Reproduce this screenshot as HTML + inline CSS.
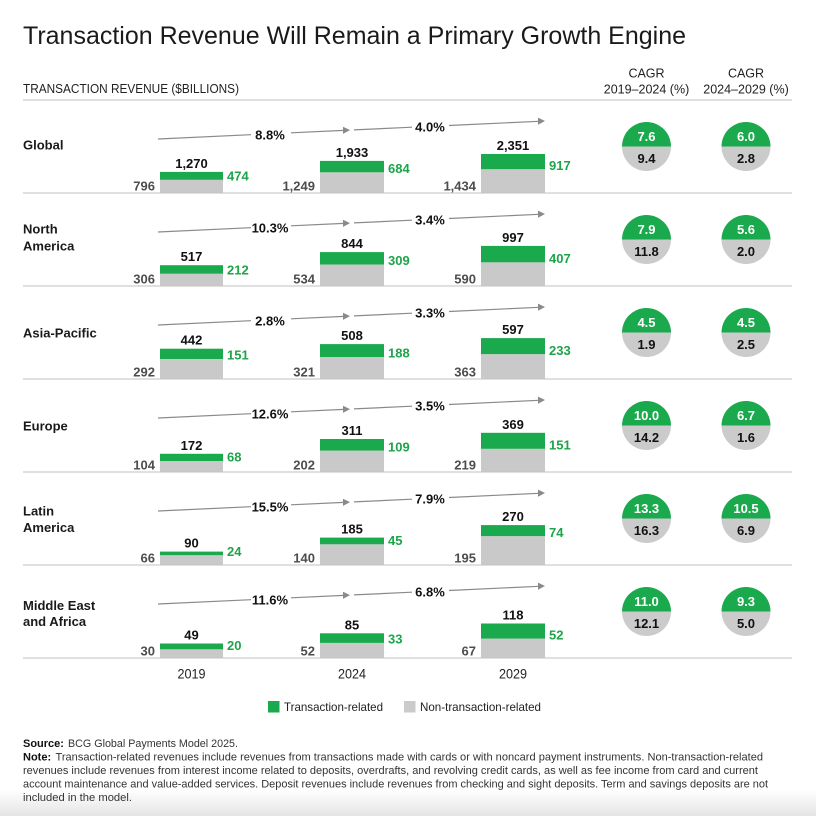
<!DOCTYPE html>
<html><head><meta charset="utf-8"><style>
html,body{margin:0;padding:0;background:#fff;}
svg{display:block;}
.t{font-family:"Liberation Sans",Arial,sans-serif;}
.b{font-weight:bold;font-size:13px;}
.tot{fill:#111;text-anchor:middle;}
.gv{fill:#4d4d4d;text-anchor:end;}
.gr{fill:#1ea44a;}
.lbl{fill:#111;text-anchor:middle;}
.rl{fill:#1a1a1a;font-weight:bold;font-size:13px;}
.cw{fill:#fff;text-anchor:middle;}
.ck{fill:#111;text-anchor:middle;}
</style></head><body>
<svg width="816" height="816" viewBox="0 0 816 816" class="t" font-family="Liberation Sans, Arial, sans-serif">
<defs>
<linearGradient id="bg" x1="0" y1="0" x2="0" y2="1">
<stop offset="0" stop-color="#ffffff"/>
<stop offset="1" stop-color="#e4e4e4"/>
</linearGradient>
<g id="arr">
<g stroke="#8a8a8a" stroke-width="1.2" fill="none">
<line x1="158" y1="39" x2="251" y2="34.7"/>
<line x1="291" y1="32.8" x2="344" y2="30.4"/>
<line x1="354" y1="29.9" x2="412" y2="27.2"/>
<line x1="449" y1="25.5" x2="539" y2="21.3"/>
</g>
<polygon points="350,30.1 343,26.7 343,33.9" fill="#8a8a8a"/>
<polygon points="545,21 538,17.6 538,24.8" fill="#8a8a8a"/>
</g>
<g id="c1"><path d="M622,46.5 A24.5,24.5 0 0 1 671,46.5 Z" fill="#1aa94c"/><path d="M622,46.5 A24.5,24.5 0 0 0 671,46.5 Z" fill="#cbcbcb"/></g>
<g id="c2"><path d="M721.5,46.5 A24.5,24.5 0 0 1 770.5,46.5 Z" fill="#1aa94c"/><path d="M721.5,46.5 A24.5,24.5 0 0 0 770.5,46.5 Z" fill="#cbcbcb"/></g>
</defs>

<rect x="0" y="790" width="816" height="26" fill="url(#bg)"/>

<text x="23" y="44" font-size="25" fill="#1a1a1a" textLength="663" lengthAdjust="spacingAndGlyphs">Transaction Revenue Will Remain a Primary Growth Engine</text>
<text x="23" y="93" font-size="13" fill="#222" textLength="216" lengthAdjust="spacingAndGlyphs">TRANSACTION REVENUE ($BILLIONS)</text>
<text x="646.5" y="77.3" font-size="12.5" fill="#222" text-anchor="middle">CAGR</text>
<text x="646.5" y="93.5" font-size="12.5" fill="#222" text-anchor="middle">2019–2024 (%)</text>
<text x="746" y="77.3" font-size="12.5" fill="#222" text-anchor="middle">CAGR</text>
<text x="746" y="93.5" font-size="12.5" fill="#222" text-anchor="middle">2024–2029 (%)</text>
<line x1="23" y1="100" x2="792" y2="100" stroke="#c2c2c2" stroke-width="1"/>

<!-- Global -->
<g transform="translate(0,100)">
<text x="23" y="49.5" class="rl">Global</text>
<use href="#arr"/>
<text x="270" y="39.6" class="b lbl">8.8%</text>
<text x="430" y="31.3" class="b lbl">4.0%</text>
<rect x="160" y="79.8" width="63" height="13.2" fill="#c9c9c9"/><rect x="160" y="71.9" width="63" height="7.9" fill="#1aa94c"/>
<rect x="320" y="72.3" width="64" height="20.7" fill="#c9c9c9"/><rect x="320" y="60.9" width="64" height="11.4" fill="#1aa94c"/>
<rect x="481" y="69.2" width="64" height="23.8" fill="#c9c9c9"/><rect x="481" y="54" width="64" height="15.2" fill="#1aa94c"/>
<text x="191.5" y="67.9" class="b tot">1,270</text><text x="155" y="90.5" class="b gv">796</text><text x="227" y="80.5" class="b gr">474</text>
<text x="352" y="56.9" class="b tot">1,933</text><text x="315" y="90.5" class="b gv">1,249</text><text x="388" y="73" class="b gr">684</text>
<text x="513" y="50" class="b tot">2,351</text><text x="476" y="90.5" class="b gv">1,434</text><text x="549" y="69.9" class="b gr">917</text>
<use href="#c1"/><use href="#c2"/>
<text x="646.5" y="41.1" class="b cw">7.6</text><text x="646.5" y="63.1" class="b ck">9.4</text>
<text x="746" y="41.1" class="b cw">6.0</text><text x="746" y="63.1" class="b ck">2.8</text>
<line x1="23" y1="93" x2="792" y2="93" stroke="#c2c2c2" stroke-width="1"/>
</g>

<!-- North America -->
<g transform="translate(0,193)">
<text x="23" y="40.5" class="rl">North</text><text x="23" y="57.5" class="rl">America</text>
<use href="#arr"/>
<text x="270" y="39.6" class="b lbl">10.3%</text>
<text x="430" y="31.3" class="b lbl">3.4%</text>
<rect x="160" y="80.7" width="63" height="12.3" fill="#c9c9c9"/><rect x="160" y="72.2" width="63" height="8.5" fill="#1aa94c"/>
<rect x="320" y="71.5" width="64" height="21.5" fill="#c9c9c9"/><rect x="320" y="59.1" width="64" height="12.4" fill="#1aa94c"/>
<rect x="481" y="69.3" width="64" height="23.7" fill="#c9c9c9"/><rect x="481" y="52.9" width="64" height="16.4" fill="#1aa94c"/>
<text x="191.5" y="68.2" class="b tot">517</text><text x="155" y="90.5" class="b gv">306</text><text x="227" y="81.4" class="b gr">212</text>
<text x="352" y="55.1" class="b tot">844</text><text x="315" y="90.5" class="b gv">534</text><text x="388" y="72.2" class="b gr">309</text>
<text x="513" y="48.9" class="b tot">997</text><text x="476" y="90.5" class="b gv">590</text><text x="549" y="70" class="b gr">407</text>
<use href="#c1"/><use href="#c2"/>
<text x="646.5" y="41.1" class="b cw">7.9</text><text x="646.5" y="63.1" class="b ck">11.8</text>
<text x="746" y="41.1" class="b cw">5.6</text><text x="746" y="63.1" class="b ck">2.0</text>
<line x1="23" y1="93" x2="792" y2="93" stroke="#c2c2c2" stroke-width="1"/>
</g>

<!-- Asia-Pacific -->
<g transform="translate(0,286)">
<text x="23" y="51.5" class="rl">Asia-Pacific</text>
<use href="#arr"/>
<text x="270" y="39.6" class="b lbl">2.8%</text>
<text x="430" y="31.3" class="b lbl">3.3%</text>
<rect x="160" y="73" width="63" height="20" fill="#c9c9c9"/><rect x="160" y="62.7" width="63" height="10.3" fill="#1aa94c"/>
<rect x="320" y="71" width="64" height="22" fill="#c9c9c9"/><rect x="320" y="58.1" width="64" height="12.9" fill="#1aa94c"/>
<rect x="481" y="68.1" width="64" height="24.9" fill="#c9c9c9"/><rect x="481" y="52.1" width="64" height="16" fill="#1aa94c"/>
<text x="191.5" y="58.7" class="b tot">442</text><text x="155" y="90.5" class="b gv">292</text><text x="227" y="73.7" class="b gr">151</text>
<text x="352" y="54.1" class="b tot">508</text><text x="315" y="90.5" class="b gv">321</text><text x="388" y="71.7" class="b gr">188</text>
<text x="513" y="48.1" class="b tot">597</text><text x="476" y="90.5" class="b gv">363</text><text x="549" y="68.8" class="b gr">233</text>
<use href="#c1"/><use href="#c2"/>
<text x="646.5" y="41.1" class="b cw">4.5</text><text x="646.5" y="63.1" class="b ck">1.9</text>
<text x="746" y="41.1" class="b cw">4.5</text><text x="746" y="63.1" class="b ck">2.5</text>
<line x1="23" y1="93" x2="792" y2="93" stroke="#c2c2c2" stroke-width="1"/>
</g>

<!-- Europe -->
<g transform="translate(0,379)">
<text x="23" y="51.5" class="rl">Europe</text>
<use href="#arr"/>
<text x="270" y="39.6" class="b lbl">12.6%</text>
<text x="430" y="31.3" class="b lbl">3.5%</text>
<rect x="160" y="82" width="63" height="11" fill="#c9c9c9"/><rect x="160" y="74.8" width="63" height="7.2" fill="#1aa94c"/>
<rect x="320" y="71.6" width="64" height="21.4" fill="#c9c9c9"/><rect x="320" y="60" width="64" height="11.6" fill="#1aa94c"/>
<rect x="481" y="69.8" width="64" height="23.2" fill="#c9c9c9"/><rect x="481" y="53.8" width="64" height="16" fill="#1aa94c"/>
<text x="191.5" y="70.8" class="b tot">172</text><text x="155" y="90.5" class="b gv">104</text><text x="227" y="82.7" class="b gr">68</text>
<text x="352" y="56" class="b tot">311</text><text x="315" y="90.5" class="b gv">202</text><text x="388" y="72.3" class="b gr">109</text>
<text x="513" y="49.8" class="b tot">369</text><text x="476" y="90.5" class="b gv">219</text><text x="549" y="70.5" class="b gr">151</text>
<use href="#c1"/><use href="#c2"/>
<text x="646.5" y="41.1" class="b cw">10.0</text><text x="646.5" y="63.1" class="b ck">14.2</text>
<text x="746" y="41.1" class="b cw">6.7</text><text x="746" y="63.1" class="b ck">1.6</text>
<line x1="23" y1="93" x2="792" y2="93" stroke="#c2c2c2" stroke-width="1"/>
</g>

<!-- Latin America -->
<g transform="translate(0,472)">
<text x="23" y="43.5" class="rl">Latin</text><text x="23" y="60.2" class="rl">America</text>
<use href="#arr"/>
<text x="270" y="39.6" class="b lbl">15.5%</text>
<text x="430" y="31.3" class="b lbl">7.9%</text>
<rect x="160" y="83.2" width="63" height="9.8" fill="#c9c9c9"/><rect x="160" y="79.6" width="63" height="3.6" fill="#1aa94c"/>
<rect x="320" y="72.3" width="64" height="20.7" fill="#c9c9c9"/><rect x="320" y="65.6" width="64" height="6.7" fill="#1aa94c"/>
<rect x="481" y="64.1" width="64" height="28.9" fill="#c9c9c9"/><rect x="481" y="53.1" width="64" height="11" fill="#1aa94c"/>
<text x="191.5" y="75.6" class="b tot">90</text><text x="155" y="90.5" class="b gv">66</text><text x="227" y="83.9" class="b gr">24</text>
<text x="352" y="61.6" class="b tot">185</text><text x="315" y="90.5" class="b gv">140</text><text x="388" y="73" class="b gr">45</text>
<text x="513" y="49.1" class="b tot">270</text><text x="476" y="90.5" class="b gv">195</text><text x="549" y="64.8" class="b gr">74</text>
<use href="#c1"/><use href="#c2"/>
<text x="646.5" y="41.1" class="b cw">13.3</text><text x="646.5" y="63.1" class="b ck">16.3</text>
<text x="746" y="41.1" class="b cw">10.5</text><text x="746" y="63.1" class="b ck">6.9</text>
<line x1="23" y1="93" x2="792" y2="93" stroke="#c2c2c2" stroke-width="1"/>
</g>

<!-- Middle East and Africa -->
<g transform="translate(0,565)">
<text x="23" y="45.2" class="rl">Middle East</text><text x="23" y="60.8" class="rl">and Africa</text>
<use href="#arr"/>
<text x="270" y="39.6" class="b lbl">11.6%</text>
<text x="430" y="31.3" class="b lbl">6.8%</text>
<rect x="160" y="84.3" width="63" height="8.7" fill="#c9c9c9"/><rect x="160" y="78.5" width="63" height="5.8" fill="#1aa94c"/>
<rect x="320" y="77.9" width="64" height="15.1" fill="#c9c9c9"/><rect x="320" y="68.3" width="64" height="9.6" fill="#1aa94c"/>
<rect x="481" y="73.6" width="64" height="19.4" fill="#c9c9c9"/><rect x="481" y="58.5" width="64" height="15.1" fill="#1aa94c"/>
<text x="191.5" y="74.5" class="b tot">49</text><text x="155" y="90.5" class="b gv">30</text><text x="227" y="85" class="b gr">20</text>
<text x="352" y="64.3" class="b tot">85</text><text x="315" y="90.5" class="b gv">52</text><text x="388" y="78.6" class="b gr">33</text>
<text x="513" y="54.5" class="b tot">118</text><text x="476" y="90.5" class="b gv">67</text><text x="549" y="74.3" class="b gr">52</text>
<use href="#c1"/><use href="#c2"/>
<text x="646.5" y="41.1" class="b cw">11.0</text><text x="646.5" y="63.1" class="b ck">12.1</text>
<text x="746" y="41.1" class="b cw">9.3</text><text x="746" y="63.1" class="b ck">5.0</text>
<line x1="23" y1="93" x2="792" y2="93" stroke="#c2c2c2" stroke-width="1"/>
</g>

<!-- Years -->
<text x="191.5" y="678.5" font-size="13.5" fill="#222" text-anchor="middle" textLength="28" lengthAdjust="spacingAndGlyphs">2019</text>
<text x="352" y="678.5" font-size="13.5" fill="#222" text-anchor="middle" textLength="28" lengthAdjust="spacingAndGlyphs">2024</text>
<text x="513" y="678.5" font-size="13.5" fill="#222" text-anchor="middle" textLength="28" lengthAdjust="spacingAndGlyphs">2029</text>

<!-- Legend -->
<rect x="268" y="701" width="11.5" height="11.5" fill="#1aa94c"/>
<text x="284" y="711.2" font-size="12" fill="#222" textLength="99" lengthAdjust="spacingAndGlyphs">Transaction-related</text>
<rect x="404" y="701" width="11.5" height="11.5" fill="#cbcbcb"/>
<text x="420" y="711.2" font-size="12" fill="#222" textLength="121" lengthAdjust="spacingAndGlyphs">Non-transaction-related</text>

<!-- Source / Note -->
<text x="23" y="746.8" font-size="11" font-weight="bold" fill="#111">Source:</text>
<text x="68" y="746.8" font-size="11" fill="#333" textLength="170" lengthAdjust="spacingAndGlyphs">BCG Global Payments Model 2025.</text>
<text x="23" y="760.5" font-size="11" font-weight="bold" fill="#111">Note:</text>
<text x="55.5" y="760.5" font-size="11" fill="#333" textLength="707.5" lengthAdjust="spacingAndGlyphs">Transaction-related revenues include revenues from transactions made with cards or with noncard payment instruments. Non-transaction-related</text>
<text x="23" y="774" font-size="11" fill="#333" textLength="735" lengthAdjust="spacingAndGlyphs">revenues include revenues from interest income related to deposits, overdrafts, and revolving credit cards, as well as fee income from card and current</text>
<text x="23" y="787.5" font-size="11" fill="#333" textLength="745" lengthAdjust="spacingAndGlyphs">account maintenance and value-added services. Deposit revenues include revenues from checking and sight deposits. Term and savings deposits are not</text>
<text x="23" y="801" font-size="11" fill="#333" textLength="109" lengthAdjust="spacingAndGlyphs">included in the model.</text>
</svg>
</body></html>
